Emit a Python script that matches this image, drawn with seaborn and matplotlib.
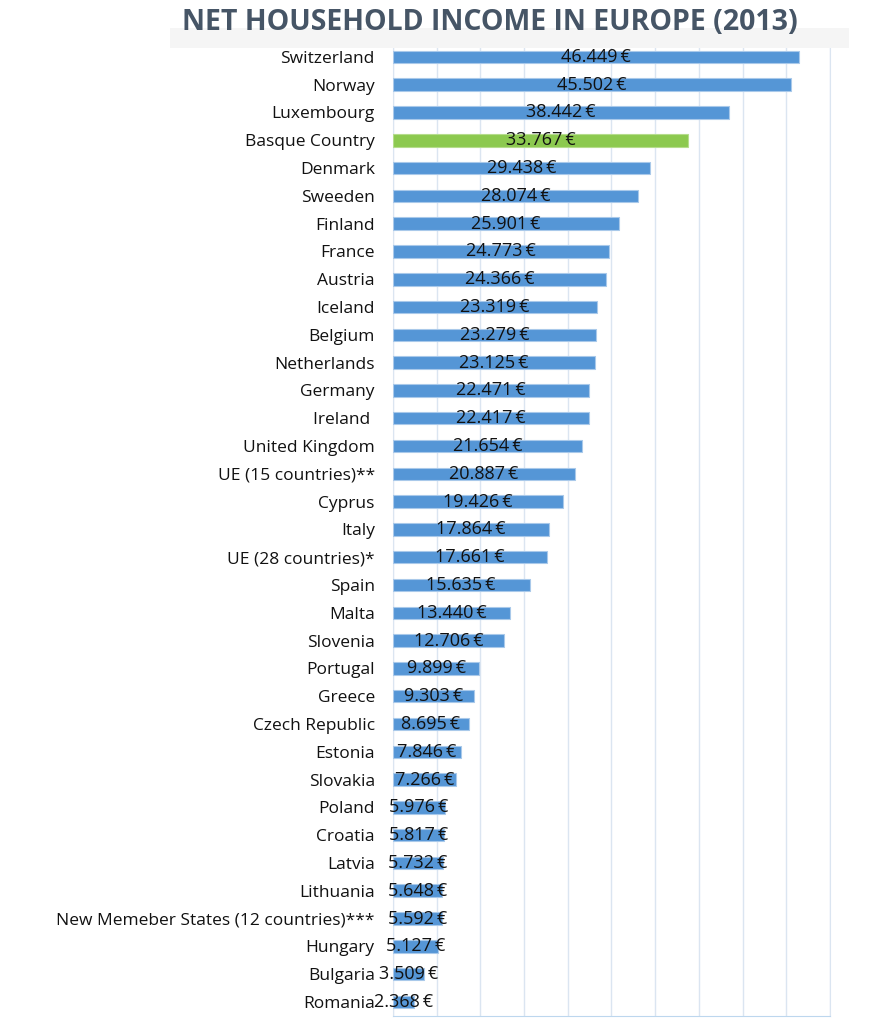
import matplotlib
matplotlib.use("Agg")
import matplotlib.pyplot as plt
import seaborn as sns
import pandas as pd
from matplotlib.patches import Rectangle

countries = ["Switzerland", "Norway", "Luxembourg", "Basque Country", "Denmark", "Sweeden",
             "Finland", "France", "Austria", "Iceland", "Belgium", "Netherlands", "Germany",
             "Ireland ", "United Kingdom", "UE (15 countries)**", "Cyprus", "Italy",
             "UE (28 countries)*", "Spain", "Malta", "Slovenia", "Portugal", "Greece",
             "Czech Republic", "Estonia", "Slovakia", "Poland", "Croatia", "Latvia",
             "Lithuania", "New Memeber States (12 countries)***", "Hungary", "Bulgaria", "Romania"]
income = [46449, 45502, 38442, 33767, 29438, 28074, 25901, 24773, 24366, 23319, 23279,
          23125, 22471, 22417, 21654, 20887, 19426, 17864, 17661, 15635, 13440, 12706,
          9899, 9303, 8695, 7846, 7266, 5976, 5817, 5732, 5648, 5592, 5127, 3509, 2368]
highlight = ["Basque Country"]
title = "NET HOUSEHOLD INCOME IN EUROPE (2013)"

df = pd.DataFrame({"country": countries, "income": income})
df["group"] = ["hl" if c in highlight else "base" for c in countries]

sns.set_style("white")
plt.rcParams["font.family"] = ["Open Sans", "DejaVu Sans"]

fig = plt.figure(figsize=(8.71, 10.24), dpi=100)
ax = fig.add_axes([0.451, 0.008, 0.502, 0.950])

# title background box
fig.patches.append(Rectangle((0.195, 0.953), 0.78, 0.02, transform=fig.transFigure,
                             facecolor="#f5f5f5", edgecolor="none", zorder=0))

sns.barplot(data=df, y="country", x="income", hue="group",
            palette={"base": "#5596d6", "hl": "#8cc94f"}, orient="h",
            width=0.45, legend=False, ax=ax, zorder=3,
            edgecolor="#a9c9ea", linewidth=0.8, saturation=1)
for bar in ax.patches:
    fc = bar.get_facecolor()
    if fc[1] > fc[2]:
        bar.set_edgecolor("#b5dc8c")

ax.set_xlim(0, 50000)
ax.set_xticks(range(0, 50001, 5000))
ax.tick_params(axis="x", length=0, labelbottom=False)
ax.tick_params(axis="y", length=0, pad=13, labelsize=12.5, labelcolor="#111111")
ax.grid(axis="x", color="#dbe5f1", linewidth=1, zorder=0)
ax.set_xlabel("")
ax.set_ylabel("")
ax.spines["top"].set_visible(False)
ax.spines["left"].set_color("#dbe5f1")
ax.spines["right"].set_color("#dbe5f1")
ax.spines["bottom"].set_color("#bdd7ee")

for i, v in enumerate(income):
    lbl = f"{v:,}".replace(",", ".") + "\u2009€"
    ax.text(v / 2, i, lbl, ha="center", va="center", fontsize=13,
            color="#111111", zorder=5)

fig.text(0.563, 0.978, title, ha="center", va="center", fontsize=20.5,
         fontweight="bold", color="#465566")

fig.savefig("out.png", dpi=100, facecolor="white")
